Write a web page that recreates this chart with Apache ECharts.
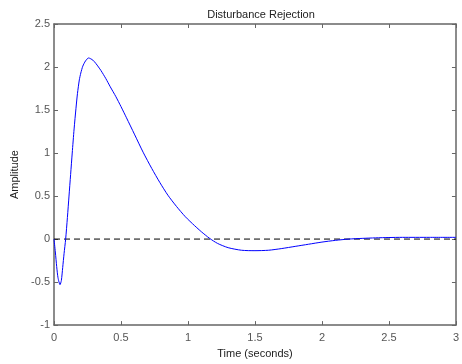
<!DOCTYPE html>
<html><head><meta charset="utf-8">
<script src="https://cdn.jsdelivr.net/npm/echarts@6/dist/echarts.min.js"></script>
<style>html,body{margin:0;padding:0;background:#fff}#c{width:462px;height:364px}</style>
</head><body><div id="c"></div>
<script>
var title = "Disturbance Rejection";
var xName = "Time (seconds)";
var yName = "Amplitude";
var xTicks = [0, 0.5, 1, 1.5, 2, 2.5, 3];
var yTicks = [-1, -0.5, 0, 0.5, 1, 1.5, 2, 2.5];
var timeVals = [0,0.01,0.02,0.03,0.045,0.055,0.065,0.075,0.087,0.1,0.112,0.124,0.136,0.15,0.164,0.175,0.189,0.2,0.215,0.235,0.258,0.29,0.313,0.35,0.387,0.42,0.462,0.5,0.541,0.6,0.665,0.73,0.789,0.85,0.914,0.98,1.05,1.1,1.16,1.22,1.3,1.4,1.5,1.6,1.7,1.8,1.9,2.0,2.1,2.2,2.3,2.4,2.5,2.6,2.8,3.0];
var ampVals = [0,-0.15,-0.32,-0.45,-0.53,-0.48,-0.33,-0.17,0,0.25,0.5,0.75,1.0,1.28,1.52,1.69,1.85,1.93,2.01,2.07,2.105,2.08,2.04,1.96,1.865,1.77,1.655,1.54,1.41,1.22,1.01,0.82,0.66,0.51,0.38,0.26,0.155,0.085,0.01,-0.05,-0.1,-0.13,-0.135,-0.13,-0.11,-0.085,-0.06,-0.035,-0.015,0,0.008,0.014,0.018,0.02,0.02,0.02];
var refX = [0, 3];
var refY = [0, 0];

var mainData = timeVals.map(function(t,i){return [t, ampVals[i]];});
var refData = refX.map(function(t,i){return [t, refY[i]];});
var font = 'Liberation Sans, Arial, sans-serif';
var axisCol = '#666';
function xAxis(show, pos){
  return {type:'value', min:0, max:3, interval:0.5, position:pos,
    axisLine:{show:true, onZero:false, lineStyle:{color:axisCol, width:1.5}},
    axisTick:{show:true, inside:true, length:4, lineStyle:{color:axisCol}},
    axisLabel:{show:show, color:'#555', fontFamily:font, fontSize:11, margin:7},
    splitLine:{show:false},
    name: show ? xName : '', nameLocation:'middle', nameGap:22,
    nameTextStyle:{color:'#222', fontFamily:font, fontSize:11}};
}
function yAxis(show, pos){
  return {type:'value', min:-1, max:2.5, interval:0.5, position:pos,
    axisLine:{show:true, onZero:false, lineStyle:{color:axisCol, width:1.5}},
    axisTick:{show:true, inside:true, length:4, lineStyle:{color:axisCol}},
    axisLabel:{show:show, color:'#555', fontFamily:font, fontSize:11, margin:4},
    splitLine:{show:false},
    name: show ? yName : '', nameLocation:'middle', nameGap:33,
    nameTextStyle:{color:'#222', fontFamily:font, fontSize:11}};
}
var chart = echarts.init(document.getElementById('c'), null, {renderer:'canvas'});
chart.setOption({
  animation:false,
  backgroundColor:'#fff',
  title:{text:title, left:256, top:4, textAlign:'center',
    textStyle:{color:'#222', fontFamily:font, fontSize:11, fontWeight:'normal'}},
  grid:{left:54, right:5, top:24, bottom:33},
  xAxis:[xAxis(true,'bottom'), xAxis(false,'top')],
  yAxis:[yAxis(true,'left'), yAxis(false,'right')],
  series:[
    {type:'line', data:refData, showSymbol:false, symbol:'none',
     lineStyle:{color:'#000', width:1, type:[6,4]}},
    {type:'line', data:mainData, showSymbol:false, symbol:'none', smooth:0.25,
     lineStyle:{color:'#0000ff', width:1}}
  ]
});
</script></body></html>
